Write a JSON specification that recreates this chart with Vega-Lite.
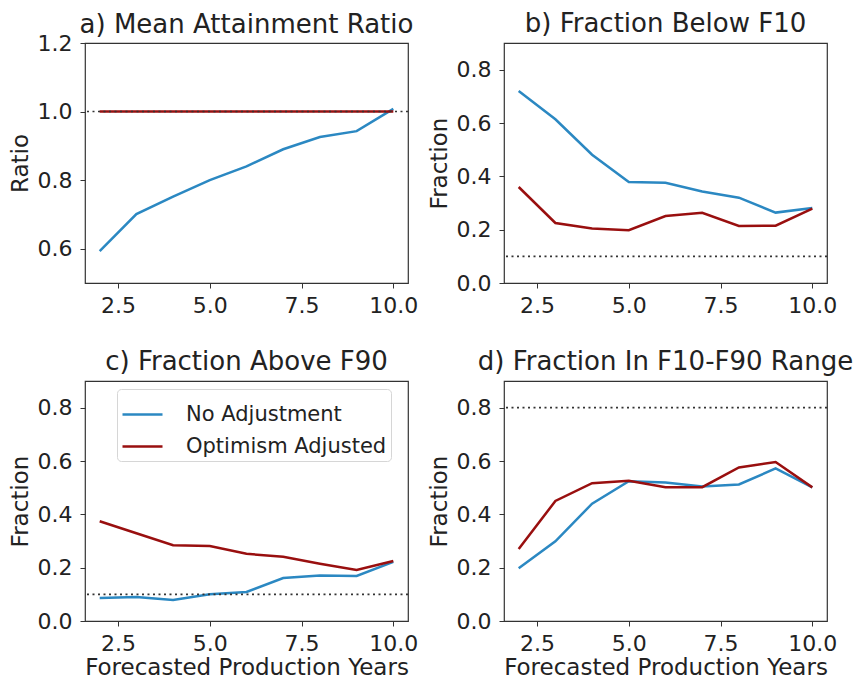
{
  "$schema": "https://vega.github.io/schema/vega-lite/v6.json",
  "background": "white",
  "padding": {"left": 8, "top": 10, "right": 0, "bottom": 0},
  "datasets": {
    "lines": [
      {"panel": "a", "year": 2, "series": "No Adjustment", "value": 0.593},
      {"panel": "a", "year": 3, "series": "No Adjustment", "value": 0.701},
      {"panel": "a", "year": 4, "series": "No Adjustment", "value": 0.752},
      {"panel": "a", "year": 5, "series": "No Adjustment", "value": 0.800},
      {"panel": "a", "year": 6, "series": "No Adjustment", "value": 0.840},
      {"panel": "a", "year": 7, "series": "No Adjustment", "value": 0.890},
      {"panel": "a", "year": 8, "series": "No Adjustment", "value": 0.926},
      {"panel": "a", "year": 9, "series": "No Adjustment", "value": 0.943},
      {"panel": "a", "year": 10, "series": "No Adjustment", "value": 1.008},
      {"panel": "a", "year": 2, "series": "Optimism Adjusted", "value": 1.0},
      {"panel": "a", "year": 3, "series": "Optimism Adjusted", "value": 1.0},
      {"panel": "a", "year": 4, "series": "Optimism Adjusted", "value": 1.0},
      {"panel": "a", "year": 5, "series": "Optimism Adjusted", "value": 1.0},
      {"panel": "a", "year": 6, "series": "Optimism Adjusted", "value": 1.0},
      {"panel": "a", "year": 7, "series": "Optimism Adjusted", "value": 1.0},
      {"panel": "a", "year": 8, "series": "Optimism Adjusted", "value": 1.0},
      {"panel": "a", "year": 9, "series": "Optimism Adjusted", "value": 1.0},
      {"panel": "a", "year": 10, "series": "Optimism Adjusted", "value": 1.0},
      {"panel": "b", "year": 2, "series": "No Adjustment", "value": 0.720},
      {"panel": "b", "year": 3, "series": "No Adjustment", "value": 0.614},
      {"panel": "b", "year": 4, "series": "No Adjustment", "value": 0.481},
      {"panel": "b", "year": 5, "series": "No Adjustment", "value": 0.379},
      {"panel": "b", "year": 6, "series": "No Adjustment", "value": 0.376},
      {"panel": "b", "year": 7, "series": "No Adjustment", "value": 0.343},
      {"panel": "b", "year": 8, "series": "No Adjustment", "value": 0.320},
      {"panel": "b", "year": 9, "series": "No Adjustment", "value": 0.264},
      {"panel": "b", "year": 10, "series": "No Adjustment", "value": 0.281},
      {"panel": "b", "year": 2, "series": "Optimism Adjusted", "value": 0.360},
      {"panel": "b", "year": 3, "series": "Optimism Adjusted", "value": 0.225},
      {"panel": "b", "year": 4, "series": "Optimism Adjusted", "value": 0.204},
      {"panel": "b", "year": 5, "series": "Optimism Adjusted", "value": 0.198},
      {"panel": "b", "year": 6, "series": "Optimism Adjusted", "value": 0.251},
      {"panel": "b", "year": 7, "series": "Optimism Adjusted", "value": 0.263},
      {"panel": "b", "year": 8, "series": "Optimism Adjusted", "value": 0.214},
      {"panel": "b", "year": 9, "series": "Optimism Adjusted", "value": 0.215},
      {"panel": "b", "year": 10, "series": "Optimism Adjusted", "value": 0.279},
      {"panel": "c", "year": 2, "series": "No Adjustment", "value": 0.086},
      {"panel": "c", "year": 3, "series": "No Adjustment", "value": 0.090},
      {"panel": "c", "year": 4, "series": "No Adjustment", "value": 0.079},
      {"panel": "c", "year": 5, "series": "No Adjustment", "value": 0.100},
      {"panel": "c", "year": 6, "series": "No Adjustment", "value": 0.109},
      {"panel": "c", "year": 7, "series": "No Adjustment", "value": 0.161},
      {"panel": "c", "year": 8, "series": "No Adjustment", "value": 0.171},
      {"panel": "c", "year": 9, "series": "No Adjustment", "value": 0.169},
      {"panel": "c", "year": 10, "series": "No Adjustment", "value": 0.222},
      {"panel": "c", "year": 2, "series": "Optimism Adjusted", "value": 0.374},
      {"panel": "c", "year": 3, "series": "Optimism Adjusted", "value": 0.329},
      {"panel": "c", "year": 4, "series": "Optimism Adjusted", "value": 0.284},
      {"panel": "c", "year": 5, "series": "Optimism Adjusted", "value": 0.281},
      {"panel": "c", "year": 6, "series": "Optimism Adjusted", "value": 0.252},
      {"panel": "c", "year": 7, "series": "Optimism Adjusted", "value": 0.241},
      {"panel": "c", "year": 8, "series": "Optimism Adjusted", "value": 0.215},
      {"panel": "c", "year": 9, "series": "Optimism Adjusted", "value": 0.191},
      {"panel": "c", "year": 10, "series": "Optimism Adjusted", "value": 0.225},
      {"panel": "d", "year": 2, "series": "No Adjustment", "value": 0.198},
      {"panel": "d", "year": 3, "series": "No Adjustment", "value": 0.299},
      {"panel": "d", "year": 4, "series": "No Adjustment", "value": 0.440},
      {"panel": "d", "year": 5, "series": "No Adjustment", "value": 0.524},
      {"panel": "d", "year": 6, "series": "No Adjustment", "value": 0.519},
      {"panel": "d", "year": 7, "series": "No Adjustment", "value": 0.504},
      {"panel": "d", "year": 8, "series": "No Adjustment", "value": 0.512},
      {"panel": "d", "year": 9, "series": "No Adjustment", "value": 0.572},
      {"panel": "d", "year": 10, "series": "No Adjustment", "value": 0.501},
      {"panel": "d", "year": 2, "series": "Optimism Adjusted", "value": 0.270},
      {"panel": "d", "year": 3, "series": "Optimism Adjusted", "value": 0.450},
      {"panel": "d", "year": 4, "series": "Optimism Adjusted", "value": 0.517},
      {"panel": "d", "year": 5, "series": "Optimism Adjusted", "value": 0.526},
      {"panel": "d", "year": 6, "series": "Optimism Adjusted", "value": 0.502},
      {"panel": "d", "year": 7, "series": "Optimism Adjusted", "value": 0.502},
      {"panel": "d", "year": 8, "series": "Optimism Adjusted", "value": 0.576},
      {"panel": "d", "year": 9, "series": "Optimism Adjusted", "value": 0.596},
      {"panel": "d", "year": 10, "series": "Optimism Adjusted", "value": 0.501}
    ],
    "refs": [
      {"panel": "a", "ref": 1.0},
      {"panel": "b", "ref": 0.1},
      {"panel": "c", "ref": 0.1},
      {"panel": "d", "ref": 0.8}
    ]
  },
  "columns": 2,
  "spacing": {"row": 98, "column": 96},
  "bounds": "flush",
  "resolve": {"scale": {"color": "independent", "y": "independent"}, "legend": {"color": "independent"}},
  "concat": [
    {
      "width": 323, "height": 240,
      "title": {"text": "a) Mean Attainment Ratio", "offset": -6},
      "layer": [
        {
          "data": {"name": "lines"},
          "transform": [{"filter": "datum.panel === 'a'"}],
          "mark": {"type": "line", "strokeWidth": 2.5},
          "encoding": {
            "x": {"field": "year", "type": "quantitative", "scale": {"domain": [1.6, 10.4], "nice": false, "zero": false}, "axis": {"values": [2.5, 5, 7.5, 10], "format": ".1f", "title": null}},
            "y": {"field": "value", "type": "quantitative", "scale": {"domain": [0.5, 1.2], "nice": false, "zero": false}, "axis": {"values": [0.6, 0.8, 1.0, 1.2], "format": ".1f", "title": "Ratio"}},
            "color": {"field": "series", "type": "nominal", "scale": {"domain": ["No Adjustment", "Optimism Adjusted"], "range": ["#2b88c2", "#990f0f"]}, "legend": null}
          }
        },
        {
          "data": {"name": "refs"},
          "transform": [{"filter": "datum.panel === 'a'"}],
          "mark": {"type": "rule", "color": "#333", "strokeWidth": 1.6, "strokeDash": [2, 3.5]},
          "encoding": {"y": {"field": "ref", "type": "quantitative"}}
        }
      ]
    },
    {
      "width": 323, "height": 240,
      "title": "b) Fraction Below F10",
      "layer": [
        {
          "data": {"name": "lines"},
          "transform": [{"filter": "datum.panel === 'b'"}],
          "mark": {"type": "line", "strokeWidth": 2.5},
          "encoding": {
            "x": {"field": "year", "type": "quantitative", "scale": {"domain": [1.6, 10.4], "nice": false, "zero": false}, "axis": {"values": [2.5, 5, 7.5, 10], "format": ".1f", "title": null}},
            "y": {"field": "value", "type": "quantitative", "scale": {"domain": [0, 0.9], "nice": false}, "axis": {"values": [0, 0.2, 0.4, 0.6, 0.8], "format": ".1f", "title": "Fraction"}},
            "color": {"field": "series", "type": "nominal", "scale": {"domain": ["No Adjustment", "Optimism Adjusted"], "range": ["#2b88c2", "#990f0f"]}, "legend": null}
          }
        },
        {
          "data": {"name": "refs"},
          "transform": [{"filter": "datum.panel === 'b'"}],
          "mark": {"type": "rule", "color": "#333", "strokeWidth": 1.6, "strokeDash": [2, 3.5]},
          "encoding": {"y": {"field": "ref", "type": "quantitative"}}
        }
      ]
    },
    {
      "width": 323, "height": 240,
      "title": "c) Fraction Above F90",
      "layer": [
        {
          "data": {"name": "lines"},
          "transform": [{"filter": "datum.panel === 'c'"}],
          "mark": {"type": "line", "strokeWidth": 2.5},
          "encoding": {
            "x": {"field": "year", "type": "quantitative", "scale": {"domain": [1.6, 10.4], "nice": false, "zero": false}, "axis": {"values": [2.5, 5, 7.5, 10], "format": ".1f", "title": "Forecasted Production Years"}},
            "y": {"field": "value", "type": "quantitative", "scale": {"domain": [0, 0.9], "nice": false}, "axis": {"values": [0, 0.2, 0.4, 0.6, 0.8], "format": ".1f", "title": "Fraction"}},
            "color": {"field": "series", "type": "nominal", "scale": {"domain": ["No Adjustment", "Optimism Adjusted"], "range": ["#2b88c2", "#990f0f"]},
              "legend": {"title": null, "orient": "none", "legendX": 32, "legendY": 8, "symbolType": "M-1,0H1", "symbolSize": 1600, "symbolStrokeWidth": 2.5, "labelFontSize": 21, "labelColor": "#222", "labelFont": "DejaVu Sans", "labelLimit": 400, "fillColor": "white", "strokeColor": "#d6d6d6", "cornerRadius": 4, "padding": 4, "rowPadding": 0, "labelOffset": 22}}
          }
        },
        {
          "data": {"name": "refs"},
          "transform": [{"filter": "datum.panel === 'c'"}],
          "mark": {"type": "rule", "color": "#333", "strokeWidth": 1.6, "strokeDash": [2, 3.5]},
          "encoding": {"y": {"field": "ref", "type": "quantitative"}}
        }
      ]
    },
    {
      "width": 323, "height": 240,
      "title": "d) Fraction In F10-F90 Range",
      "layer": [
        {
          "data": {"name": "lines"},
          "transform": [{"filter": "datum.panel === 'd'"}],
          "mark": {"type": "line", "strokeWidth": 2.5},
          "encoding": {
            "x": {"field": "year", "type": "quantitative", "scale": {"domain": [1.6, 10.4], "nice": false, "zero": false}, "axis": {"values": [2.5, 5, 7.5, 10], "format": ".1f", "title": "Forecasted Production Years"}},
            "y": {"field": "value", "type": "quantitative", "scale": {"domain": [0, 0.9], "nice": false}, "axis": {"values": [0, 0.2, 0.4, 0.6, 0.8], "format": ".1f", "title": "Fraction"}},
            "color": {"field": "series", "type": "nominal", "scale": {"domain": ["No Adjustment", "Optimism Adjusted"], "range": ["#2b88c2", "#990f0f"]}, "legend": null}
          }
        },
        {
          "data": {"name": "refs"},
          "transform": [{"filter": "datum.panel === 'd'"}],
          "mark": {"type": "rule", "color": "#333", "strokeWidth": 1.6, "strokeDash": [2, 3.5]},
          "encoding": {"y": {"field": "ref", "type": "quantitative"}}
        }
      ]
    }
  ],
  "config": {
    "font": "DejaVu Sans",
    "view": {"stroke": "#333", "strokeWidth": 1.2},
    "axis": {"labelFontSize": 22, "titleFontSize": 23, "labelColor": "#222", "titleColor": "#222", "titleFontWeight": "normal", "grid": false, "domain": false, "tickColor": "#333", "tickSize": 5, "labelFont": "DejaVu Sans", "titleFont": "DejaVu Sans"},
    "axisX": {"labelPadding": 7, "titlePadding": 2},
    "axisY": {"labelPadding": 8, "titlePadding": 5},
    "title": {"fontSize": 26, "fontWeight": "normal", "anchor": "middle", "offset": 6, "color": "#222", "font": "DejaVu Sans"}
  }
}
